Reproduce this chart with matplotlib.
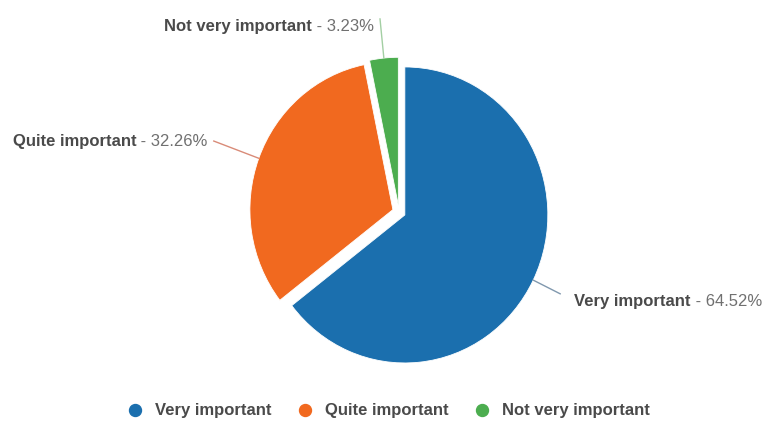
import numpy as np
import matplotlib.pyplot as plt
from matplotlib.lines import Line2D

labels = ['Very important', 'Quite important', 'Not very important']
values = [64.52, 32.26, 3.23]
colors = ['#1b6fae', '#f1691f', '#4cad4f']

plt.rcParams['font.family'] = ['Liberation Sans', 'DejaVu Sans']

W, H = 767, 424
sy = 1.035  # pie is slightly taller than wide in the reference

fig = plt.figure(figsize=(W / 100, H / 100), dpi=100)
ax = fig.add_axes([0, 0, 1, 1])

cx, cy, r = 399, (H - 212) / sy, 143
wedges, _ = ax.pie(values, colors=colors, startangle=90, counterclock=False,
                   explode=[6.5, 6.5, 6.5], center=(cx, cy), radius=r,
                   wedgeprops=dict(linewidth=0.6, edgecolor='white'))

ax.set_xlim(0, W)
ax.set_ylim(0, H / sy)
ax.set_aspect('auto')
ax.axis('off')

# leader lines + labels
line_len = [30, 48, 38]
line_cols = ['#8098ae', '#d98b78', '#a3cfa3']
for i, w in enumerate(wedges):
    ang = np.deg2rad((w.theta1 + w.theta2) / 2)
    ux, uy = np.cos(ang), np.sin(ang)
    ox, oy = w.center
    x0, y0 = ox + r * ux, oy + r * uy
    x1, y1 = x0 + line_len[i] * ux, y0 + line_len[i] * uy
    ax.plot([x0, x1], [y0, y1], color=line_cols[i], lw=1)
    pct = ' - %.2f%%' % values[i]
    if ux >= 0:
        t = ax.text(x1 + 14, y1 - 7, labels[i], fontsize=12, fontweight='bold',
                    color='#4a4a4a', ha='left', va='center')
        ax.annotate(pct, xy=(1, 0.5), xycoords=t, va='center', ha='left',
                    fontsize=12, color='#707070')
    else:
        dy = 0 if i == 1 else -7
        t = ax.text(x1 - 6, y1 + dy, pct, fontsize=12, color='#707070',
                    ha='right', va='center')
        ax.annotate(labels[i], xy=(0, 0.5), xycoords=t, va='center', ha='right',
                    fontsize=12, fontweight='bold', color='#4a4a4a')

handles = [Line2D([], [], marker='o', linestyle='', markersize=8.6,
                  markerfacecolor=c, markeredgecolor=c) for c in colors]
fig.legend(handles, labels, loc='center', bbox_to_anchor=(0.506, 0.031), ncol=3,
           frameon=False, handletextpad=0.7, columnspacing=1.5, handlelength=1.0,
           prop=dict(size=12, weight='bold'), labelcolor='#4a4a4a')

fig.savefig('out.png', dpi=100)
